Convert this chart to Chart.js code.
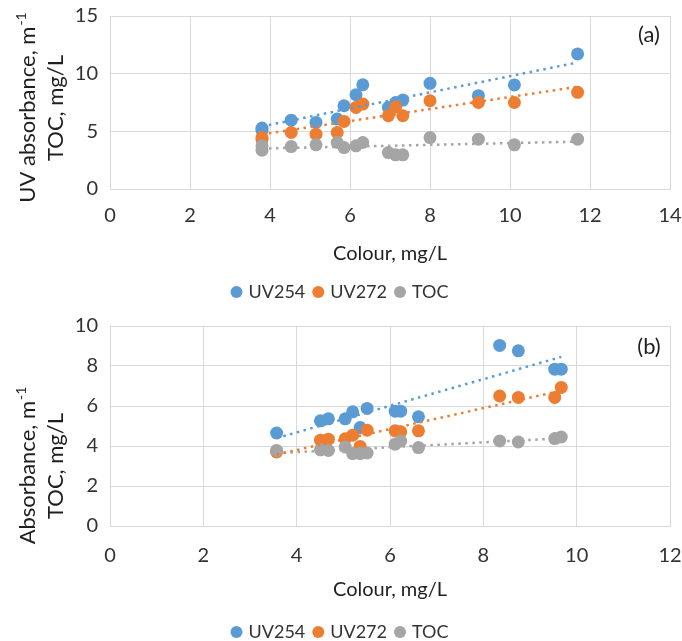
<!DOCTYPE html>
<html>
<head>
<meta charset="utf-8">
<script src="https://cdn.jsdelivr.net/npm/chart.js@4.4.1/dist/chart.umd.min.js"></script>
<style>
    html, body { margin: 0; padding: 0; background: #fff; overflow: hidden; }
    #wrap { position: relative; width: 682px; height: 641px; overflow: hidden; }
    canvas { position: absolute; left: 0; }
    #chartA { top: 0; }
    #chartB { top: 310px; }
</style>
</head>
<body>
<div id="wrap">
    <canvas id="chartA" width="682" height="311"></canvas>
    <canvas id="chartB" width="682" height="341"></canvas>
</div>
<script>
// panel (a)
const colourA = [3.8, 3.8, 4.53, 5.15, 5.68, 5.85, 6.15, 6.32, 6.96, 7.14, 7.32, 8.0, 9.21, 10.11, 11.69];
const uv254A  = [5.28, 5.1, 5.97, 5.77, 6.06, 7.22, 8.17, 9.04, 7.07, 7.5, 7.71, 9.16, 8.09, 9.02, 11.71];
const uv272A  = [4.46, 4.3, 4.9, 4.75, 4.9, 5.86, 7.07, 7.36, 6.35, 7.13, 6.35, 7.65, 7.5, 7.5, 8.38];
const tocA    = [3.74, 3.36, 3.68, 3.83, 4.03, 3.59, 3.74, 4.03, 3.16, 2.96, 2.96, 4.46, 4.32, 3.83, 4.32];

// panel (b)
const colourB = [3.57, 4.51, 4.68, 5.04, 5.2, 5.36, 5.51, 6.11, 6.23, 6.61, 8.35, 8.75, 9.53, 9.67];
const uv254B  = [4.65, 5.26, 5.36, 5.36, 5.71, 4.92, 5.88, 5.74, 5.74, 5.46, 9.03, 8.76, 7.84, 7.84];
const uv272B  = [3.70, 4.29, 4.34, 4.36, 4.54, 3.98, 4.79, 4.76, 4.71, 4.76, 6.50, 6.43, 6.43, 6.93];
const tocB    = [3.78, 3.81, 3.78, 3.95, 3.62, 3.62, 3.65, 4.09, 4.25, 3.92, 4.25, 4.20, 4.37, 4.45];

const seriesNames = ['UV254', 'UV272', 'TOC'];
const seriesColours = ['#5B9BD5', '#ED7D31', '#A5A5A5'];

const xTitle = 'Colour, mg/L';
const yTitleA = ['UV absorbance, m', 'TOC, mg/L'];
const yTitleB = ['Absorbance, m', 'TOC, mg/L'];
const supText = '-1';

const FONT = 'Lato';
const TEXT = '#333333';
const TITLE = '#1f1f1f';
const GRID = '#d9d9d9';

function toPoints(xs, ys) {
    return xs.map((x, i) => ({ x: x, y: ys[i] }));
}

// least squares line over the data range, like the spreadsheet trendline
function trendLine(xs, ys) {
    const n = xs.length;
    const mx = xs.reduce((s, v) => s + v, 0) / n;
    const my = ys.reduce((s, v) => s + v, 0) / n;
    let sxy = 0, sxx = 0;
    for (let i = 0; i < n; i++) {
        sxy += (xs[i] - mx) * (ys[i] - my);
        sxx += (xs[i] - mx) * (xs[i] - mx);
    }
    const slope = sxy / sxx;
    const icpt = my - slope * mx;
    const x0 = Math.min(...xs), x1 = Math.max(...xs);
    return [{ x: x0, y: icpt + slope * x0 }, { x: x1, y: icpt + slope * x1 }];
}

// rotated two-line y title with superscript, plus the panel label
const panelText = {
    id: 'panelText',
    afterDraw(chart, args, opts) {
        const ctx = chart.ctx;
        ctx.save();
        ctx.fillStyle = TITLE;
        ctx.textBaseline = 'alphabetic';

        // first line: main text + superscript
        ctx.save();
        ctx.translate(opts.line1X, opts.centerY);
        ctx.rotate(-Math.PI / 2);
        ctx.font = '22px ' + FONT;
        const wMain = ctx.measureText(opts.lines[0]).width;
        ctx.font = '14px ' + FONT;
        const wSup = ctx.measureText(supText).width;
        const start = -(wMain + wSup) / 2;
        ctx.textAlign = 'left';
        ctx.font = '22px ' + FONT;
        ctx.fillText(opts.lines[0], start, 0);
        ctx.font = '14px ' + FONT;
        ctx.fillText(supText, start + wMain + 1, -9);
        ctx.restore();

        // second line
        ctx.save();
        ctx.translate(opts.line2X, opts.centerY);
        ctx.rotate(-Math.PI / 2);
        ctx.font = '22px ' + FONT;
        ctx.textAlign = 'center';
        ctx.fillText(opts.lines[1], 0, 0);
        ctx.restore();

        // panel label
        ctx.font = '22px ' + FONT;
        ctx.textAlign = 'center';
        ctx.textBaseline = 'middle';
        ctx.fillText(opts.label, opts.labelX, opts.labelY);
        ctx.restore();
    }
};

function buildChart(canvasId, cfg) {
    const seriesData = [cfg.uv254, cfg.uv272, cfg.toc];
    const datasets = [];

    seriesData.forEach((ys, i) => {
        datasets.push({
            label: seriesNames[i],
            data: toPoints(cfg.colour, ys),
            backgroundColor: seriesColours[i],
            borderColor: seriesColours[i],
            pointRadius: 6.5,
            pointHoverRadius: 6.5,
            pointBorderWidth: 0,
            pointStyle: 'circle',
            order: 3 - i + 1
        });
    });

    seriesData.forEach((ys, i) => {
        datasets.push({
            label: seriesNames[i] + ' trend',
            data: trendLine(cfg.colour, ys),
            showLine: true,
            borderColor: seriesColours[i],
            backgroundColor: seriesColours[i],
            borderWidth: 2.5,
            borderDash: [2.5, 4.5],
            pointRadius: 0,
            pointHoverRadius: 0,
            fill: false,
            order: 0
        });
    });

    return new Chart(document.getElementById(canvasId), {
        type: 'scatter',
        data: { datasets: datasets },
        options: {
            responsive: false,
            animation: false,
            devicePixelRatio: 1,
            events: [],
            layout: { padding: { top: 16, right: 0, left: 0, bottom: 0 } },
            plugins: {
                legend: {
                    display: true,
                    position: 'bottom',
                    labels: {
                        usePointStyle: true,
                        pointStyle: 'circle',
                        boxWidth: 6,
                        boxHeight: 8.5,
                        padding: 10,
                        color: TEXT,
                        font: { family: FONT, size: 18 },
                        filter: item => item.datasetIndex < 3,
                        sort: (a, b) => a.datasetIndex - b.datasetIndex
                    }
                },
                tooltip: { enabled: false },
                panelText: {
                    lines: cfg.yTitle,
                    line1X: 35,
                    line2X: 63,
                    centerY: cfg.titleCenterY,
                    label: cfg.label,
                    labelX: 649,
                    labelY: cfg.labelY
                }
            },
            scales: {
                x: {
                    type: 'linear',
                    position: 'bottom',
                    min: 0,
                    max: cfg.xMax,
                    ticks: {
                        stepSize: 2,
                        maxRotation: 0,
                        padding: cfg.xTickPad,
                        color: TEXT,
                        font: { family: FONT, size: 20 }
                    },
                    grid: { color: GRID, drawTicks: false },
                    border: { color: GRID },
                    title: {
                        display: true,
                        text: xTitle,
                        color: TITLE,
                        font: { family: FONT, size: 20 },
                        padding: { top: 0, bottom: cfg.xTitlePad }
                    },
                    afterFit: scale => {
                        scale.height = cfg.xHeight;
                        scale.paddingLeft = 0;
                        scale.paddingRight = 12;
                    }
                },
                y: {
                    type: 'linear',
                    min: 0,
                    max: cfg.yMax,
                    ticks: {
                        stepSize: cfg.yStep,
                        padding: 12,
                        color: TEXT,
                        font: { family: FONT, size: 20 }
                    },
                    grid: { color: GRID, drawTicks: false },
                    border: { color: GRID },
                    afterFit: scale => {
                        scale.width = 110;
                        scale.paddingTop = 0;
                        scale.paddingBottom = 0;
                    }
                }
            }
        },
        plugins: [panelText]
    });
}

document.addEventListener('DOMContentLoaded', function() {
    buildChart('chartA', {
        colour: colourA, uv254: uv254A, uv272: uv272A, toc: tocA,
        xMax: 14, yMax: 15, yStep: 5,
        xHeight: 84, xTickPad: 15, xTitlePad: 7,
        yTitle: yTitleA, titleCenterY: 108,
        label: '(a)', labelY: 35
    });
    buildChart('chartB', {
        colour: colourB, uv254: uv254B, uv272: uv272B, toc: tocB,
        xMax: 12, yMax: 10, yStep: 2,
        xHeight: 87, xTickPad: 18, xTitlePad: 11,
        yTitle: yTitleB, titleCenterY: 156,
        label: '(b)', labelY: 37
    });
});
</script>
</body>
</html>
